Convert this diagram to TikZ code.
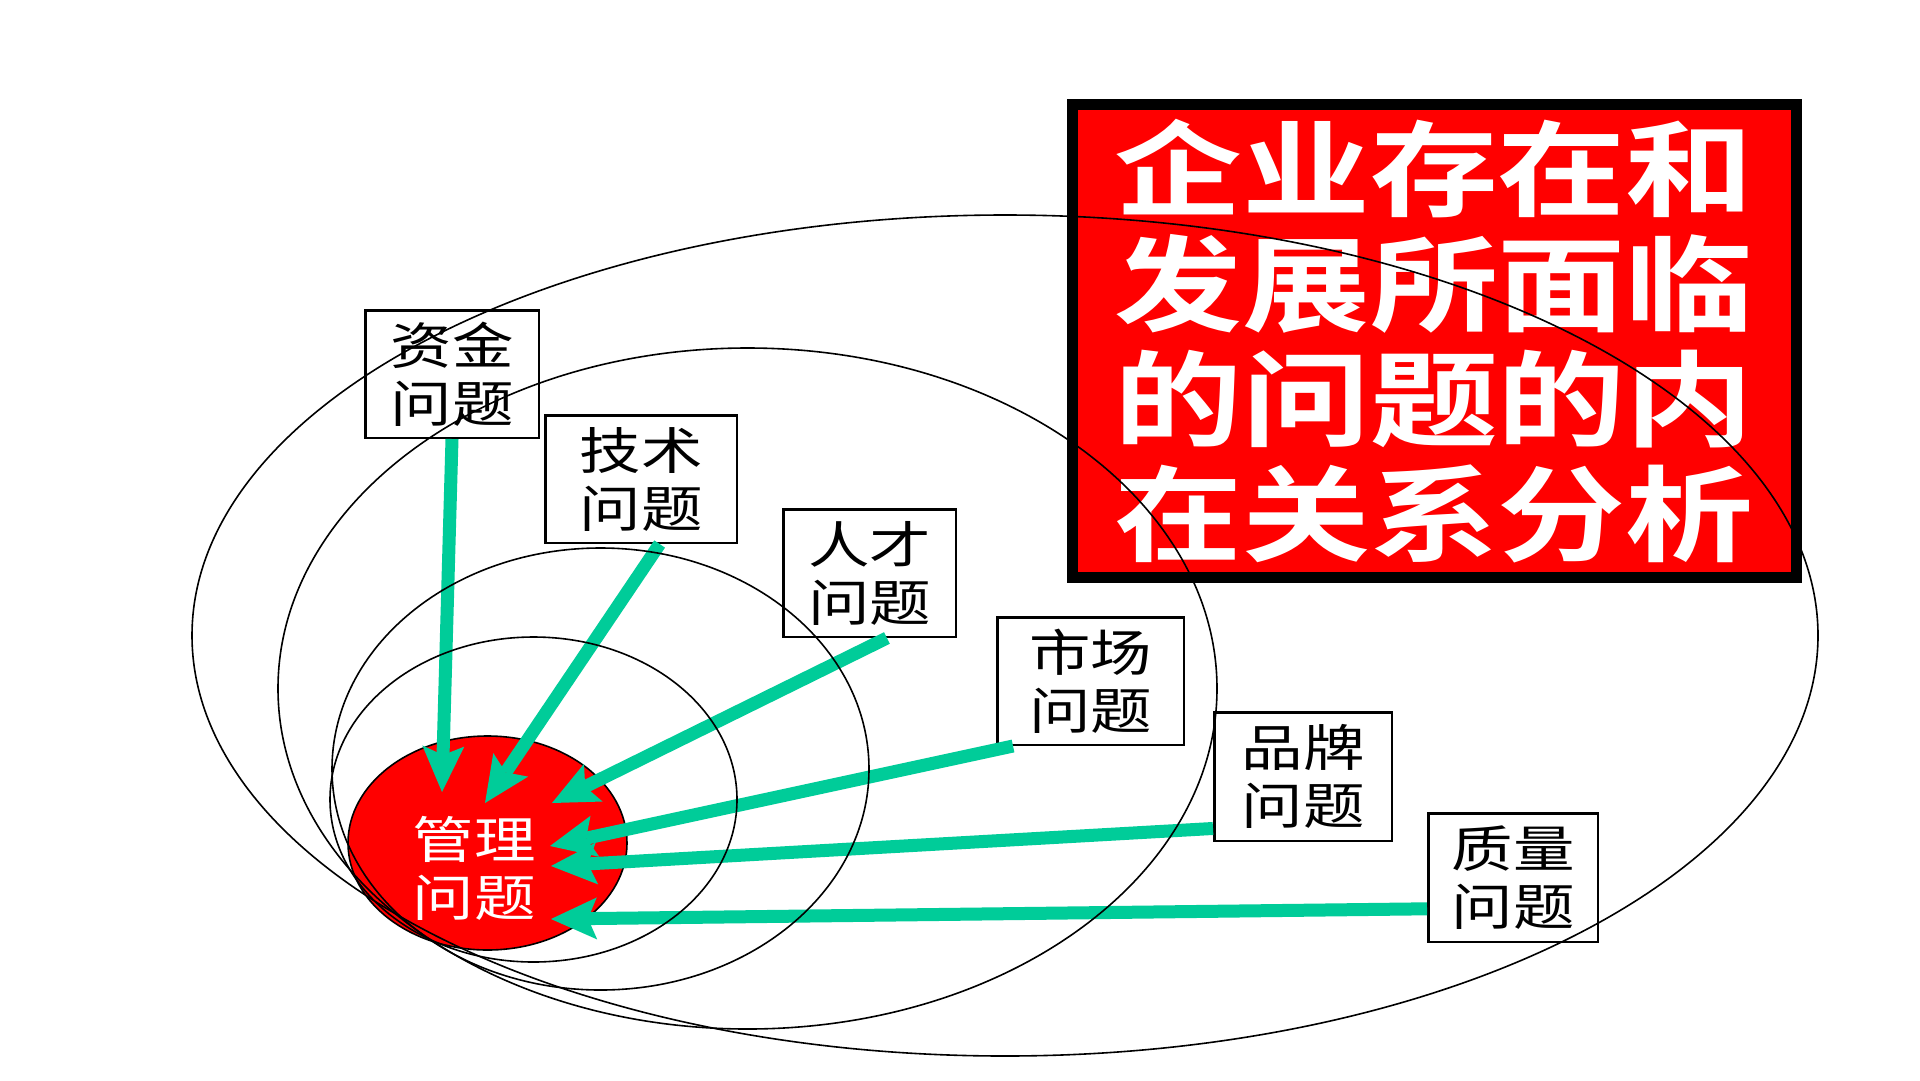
\documentclass[tikz,border=0pt]{standalone}
\usepackage{fontspec}
\usepackage{tikz}
\usetikzlibrary{shapes.geometric,arrows.meta}
\newfontfamily\cjk{Noto Sans CJK SC}[FakeStretch=1.23]
\newfontfamily\cjkbf{Noto Sans CJK SC Bold}[FakeStretch=1.23]
\definecolor{jiantougreen}{RGB}{0,204,153}
\tikzset{
    wenti/.style={draw, line width=2.5pt, inner sep=0pt, align=center, font=\cjk\fontsize{50}{58}\selectfont},
    quan/.style={line width=1.6pt},
    jiantou/.style={draw=jiantougreen, line width=13pt, -{Stealth[length=46pt,width=42pt,inset=9pt,line width=0pt]}}
}

\begin{document}
\begin{tikzpicture}[x=1pt,y=-1pt]
        \fill[white] (0,0) rectangle (1920,1080);
        \node[fill=red, draw=black, line width=11pt, minimum width=724, minimum height=473, inner sep=0pt, text=white, align=center, font=\cjkbf\fontsize{104}{115}\selectfont] (biaoti) at (1434,341) {企业存在和\\发展所面临\\的问题的内\\在关系分析};
        \node[ellipse, fill=red, draw, line width=1.6pt, minimum width=279, minimum height=214, inner sep=0pt] (guanli) at (487.5,843) {};

        \node[wenti, minimum width=173.5, minimum height=127.5] (zijin) at (452,374) {资金\\问题};
        \node[wenti, minimum width=191.5, minimum height=127.5] (jishu) at (641,479) {技术\\问题};
        \node[wenti, minimum width=172.5, minimum height=127.5] (rencai) at (869.5,573) {人才\\问题};
        \node[wenti, minimum width=186.5, minimum height=127.5] (shichang) at (1090.5,681) {市场\\问题};
        \node[wenti, minimum width=177.5, minimum height=128.5] (pinpai) at (1303,776.5) {品牌\\问题};
        \node[wenti, minimum width=169.5, minimum height=128.5] (zhiliang) at (1513,877.5) {质量\\问题};

        \coordinate (d1) at (442,792);
        \coordinate (d2) at (485,803);
        \coordinate (d3) at (552,803);
        \coordinate (d4) at (550,846);
        \coordinate (d5) at (551,866);
        \coordinate (d6) at (551,919);

        \draw[jiantou] (zijin.south) -- (d1);
        \draw[jiantou] (jishu.-74) -- (d2);
        \draw[jiantou] (rencai.-75) -- (d3);
        \draw[jiantou] (shichang.-140) -- (d4);
        \draw[jiantou] (pinpai.-150) -- (d5);
        \draw[jiantou] (zhiliang.200) -- (d6);

        \draw[quan] (1005,635.5) ellipse [x radius=813, y radius=420.5];
        \draw[quan] (747.5,688.5) ellipse [x radius=469.5, y radius=340.5];
        \draw[quan] (600.5,769) ellipse [x radius=268.5, y radius=221];
        \draw[quan] (533.5,799.5) ellipse [x radius=203.5, y radius=162.5];

        \node[text=white, align=center, font=\cjk\fontsize{50}{58}\selectfont] (guanliwenzi) at (474,868) {管理\\问题};
    \end{tikzpicture}
\end{document}
